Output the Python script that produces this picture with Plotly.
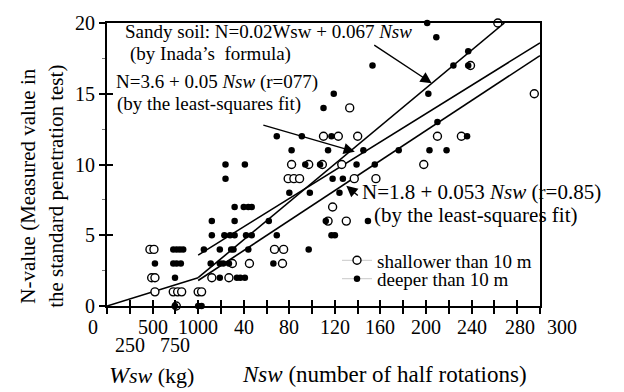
import plotly.graph_objects as go

FONT = "Liberation Serif, Times New Roman, Times, serif"

# ---------------- data ----------------
# Shallower than 10 m (open circles); points in the Wsw (kg) part have Nsw = 0
shallow_wsw = [471, 515, 490, 526, 526, 727, 775, 819, 1000, 760]
shallow_wsw_n = [4, 4, 2, 2, 1, 1, 1, 1, 1, 0]
shallow_nsw = [3, 12, 27, 30, 45, 74, 67, 75, 114, 130, 118, 79, 84, 89, 137, 156,
               82, 97, 109, 126, 198, 110, 123, 140, 210, 231, 133, 295, 239, 263]
shallow_nsw_n = [1, 2, 2, 3, 3, 3, 4, 4, 6, 6, 7, 9, 9, 9, 9, 9,
                 10, 10, 10, 10, 10, 12, 12, 12, 12, 12, 14, 15, 17, 20]

# Deeper than 10 m (filled circles)
deep_wsw = [526, 727, 764, 800, 836, 727, 764, 810, 746, 746, 1000]
deep_wsw_n = [3, 4, 4, 4, 4, 3, 3, 3, 2, 0, 0]
deep_nsw = [3,
            19, 34, 37, 41,
            11, 19, 22, 27, 66,
            5, 19, 29, 31, 44, 97,
            12, 23, 28, 32, 42, 47, 69, 117, 120,
            12, 32, 62, 112, 149,
            32, 40, 44, 47,
            80, 98, 124,
            24, 118, 127,
            24, 41, 94, 107, 139, 155,
            82, 114, 145, 176, 203, 218,
            69, 91, 117, 236,
            210, 110, 119, 202,
            153, 224, 237, 237, 209, 201]
deep_nsw_n = [0,
              2, 2, 2, 2,
              3, 3, 3, 3, 3,
              4, 4, 4, 4, 4, 4,
              5, 5, 5, 5, 5, 5, 5, 5, 5,
              6, 6, 6, 6, 6,
              7, 7, 7, 7,
              8, 8, 8,
              9, 9, 9,
              10, 10, 10, 10, 10, 10,
              11, 11, 11, 11, 11, 11,
              12, 12, 12, 12,
              13, 14, 15, 15,
              17, 17, 17, 18, 19, 20]

# Fitted / formula lines (end points)
inada_wsw = [0, 1000]
inada_wsw_n = [0, 2]
inada_nsw = [0, 268.7]
inada_nsw_n = [2, 20]
lsq1_nsw = [0, 300]
lsq1_n = [3.6, 18.6]
lsq2_nsw = [0, 300]
lsq2_n = [1.8, 17.7]

# Tick labels of the two-part horizontal axis
wsw_ticks = [0, 250, 500, 750, 1000]
wsw_tick_row = [0, 1, 0, 1, 0]
nsw_ticks = [40, 80, 120, 160, 200, 240, 280, 300]
y_ticks = [0, 5, 10, 15, 20]


# combined horizontal coordinate: 0-1000 kg occupies 4 ticks, then Nsw (20 per tick)
def wx(w):
    return [v * 0.08 for v in w]


def nx(n):
    return [80 + v for v in n]


fig = go.Figure()

line_style = dict(color="black", width=1.6)
for xs, ys in [(wx(inada_wsw), inada_wsw_n), (nx(inada_nsw), inada_nsw_n),
               (nx(lsq1_nsw), lsq1_n), (nx(lsq2_nsw), lsq2_n)]:
    fig.add_trace(go.Scatter(x=xs, y=ys, mode="lines", line=line_style,
                             showlegend=False, hoverinfo="skip"))

open_marker = dict(symbol="circle", size=8, color="white", line=dict(color="black", width=1.4))
fill_marker = dict(symbol="circle", size=6.5, color="black")

fig.add_trace(go.Scatter(x=wx(shallow_wsw) + nx(shallow_nsw), y=shallow_wsw_n + shallow_nsw_n,
                         mode="markers", marker=open_marker, showlegend=False, cliponaxis=False))
fig.add_trace(go.Scatter(x=wx(deep_wsw) + nx(deep_nsw), y=deep_wsw_n + deep_nsw_n,
                         mode="markers", marker=fill_marker, showlegend=False, cliponaxis=False))

# legend entries
fig.add_trace(go.Scatter(x=[None], y=[None], mode="lines+markers", name="shallower than 10 m",
                         line=dict(color="#c8c8c8", width=1), marker=open_marker,
                         legend="legend"))
fig.add_trace(go.Scatter(x=[None], y=[None], mode="lines+markers", name="deeper than 10 m",
                         line=dict(color="#c8c8c8", width=1), marker=fill_marker,
                         legend="legend2"))

L, R, T, B = 107, 84, 14, 86
W, H = 624, 392
pw, ph = W - L - R, H - T - B


def px_x(p):
    return (p - L) / pw


def px_y(p):
    return (H - B - p) / ph


tickvals_x = list(range(0, 381, 20))

annotations = []
# x tick labels
for v, row in zip(wsw_ticks, wsw_tick_row):
    annotations.append(dict(x=wx([v])[0], y=0, xref="x", yref="paper", text=str(v),
                            showarrow=False, yanchor="middle",
                            yshift=-21 - 18 * row, xshift=-14 if v == 0 else 0,
                            font=dict(family=FONT, size=20, color="black")))
for v in nsw_ticks:
    sh = 22 if v == 300 else (3 if v == 280 else 0)
    annotations.append(dict(x=nx([v])[0], y=0, xref="x", yref="paper", text=str(v),
                            showarrow=False, yanchor="middle", yshift=-21, xshift=sh,
                            font=dict(family=FONT, size=20, color="black")))

# axis titles
annotations.append(dict(x=px_x(107), y=px_y(377), xref="paper", yref="paper",
                        text="<i><span style='font-size:24px'>W</span></i><i>sw</i> (kg)",
                        showarrow=False, xanchor="left", yanchor="middle",
                        font=dict(family=FONT, size=22, color="black")))
annotations.append(dict(x=px_x(240), y=px_y(377), xref="paper", yref="paper",
                        text="<i>Nsw</i> (number of half rotations)", showarrow=False,
                        xanchor="left", yanchor="middle",
                        font=dict(family=FONT, size=23, color="black")))
annotations.append(dict(x=px_x(42), y=px_y(183), xref="paper", yref="paper",
                        text="N-value (Measured value in<br>the standard penetration test)",
                        showarrow=False, textangle=-90, xanchor="center", yanchor="middle",
                        font=dict(family=FONT, size=21, color="black")))

# equation labels
small = dict(family=FONT, size=19, color="black")
big = dict(family=FONT, size=21, color="black")
for txt, xp, yp, f in [
    ("Sandy soil: N=0.02Wsw + 0.067 <i>Nsw</i>", 123, 23, small),
    ("(by Inada’s  formula)", 128, 46, small),
    ("N=3.6 + 0.05 <i>Nsw</i> (r=077)", 114, 75, small),
    ("(by the least-squares fit)", 115, 98, small),
    ("N=1.8 + 0.053 <i>Nsw</i> (r=0.85)", 360, 188, big),
    ("(by the least-squares fit)", 372, 212, big),
]:
    annotations.append(dict(x=px_x(xp), y=px_y(yp), xref="paper", yref="paper", text=txt,
                            showarrow=False, xanchor="left", yanchor="middle", font=f))

# arrows pointing to the lines
for hx, hy, ax, ay in [(nx([205])[0], 15.75, -59, -39),
                       (nx([137.5])[0], 10.9, -93, -27),
                       (nx([130])[0], 8.5, 13, 11)]:
    annotations.append(dict(x=hx, y=hy, xref="x", yref="y", text="", showarrow=True,
                            ax=ax, ay=ay, arrowhead=2, arrowsize=1.6, arrowwidth=1.4,
                            arrowcolor="black", standoff=0))

axis_common = dict(showgrid=False, zeroline=False)
fig.update_layout(
    width=W, height=H, margin=dict(l=L, r=R, t=T, b=B),
    paper_bgcolor="white", plot_bgcolor="white",
    font=dict(family=FONT, size=20, color="black"),
    xaxis=dict(range=[0, 380], tickvals=tickvals_x, showticklabels=False,
               ticks="outside", ticklen=6, tickwidth=1.6, tickcolor="black",
               showline=True, linecolor="black", linewidth=2, mirror=True, **axis_common),
    xaxis2=dict(range=[0, 380], tickvals=tickvals_x, showticklabels=False, overlaying="x",
                ticks="inside", ticklen=6, tickwidth=1.6, tickcolor="black",
                showline=False, side="bottom", anchor="y", **axis_common),
    yaxis=dict(range=[0, 20], tickvals=y_ticks, ticktext=[str(v) for v in y_ticks],
               ticks="outside", ticklen=6, tickwidth=1.6, tickcolor="black",
               tickfont=dict(family=FONT, size=20),
               minor=dict(tickvals=[2.5, 7.5, 12.5, 17.5], ticks="outside", ticklen=3,
                          tickcolor="#777777", tickwidth=1),
               showline=True, linecolor="black", linewidth=2, mirror=True, **axis_common),
    yaxis2=dict(range=[0, 20], tickvals=y_ticks, showticklabels=False, overlaying="y",
                ticks="inside", ticklen=6, tickwidth=1.6, tickcolor="black",
                showline=False, side="left", anchor="x", **axis_common),
    legend=dict(x=px_x(337), y=px_y(259), xanchor="left", yanchor="middle",
                bgcolor="rgba(0,0,0,0)", font=dict(family=FONT, size=19),
                borderwidth=0, itemwidth=30, tracegroupgap=0),
    legend2=dict(x=px_x(337), y=px_y(278), xanchor="left", yanchor="middle",
                 bgcolor="rgba(0,0,0,0)", font=dict(family=FONT, size=19),
                 borderwidth=0, itemwidth=30, tracegroupgap=0),
    annotations=annotations,
    showlegend=True,
)

# a dummy trace on the overlay axes so that their inner ticks are drawn
fig.add_trace(go.Scatter(x=[None], y=[None], xaxis="x2", yaxis="y2", showlegend=False,
                         hoverinfo="skip"))

fig.write_html("out.html")
